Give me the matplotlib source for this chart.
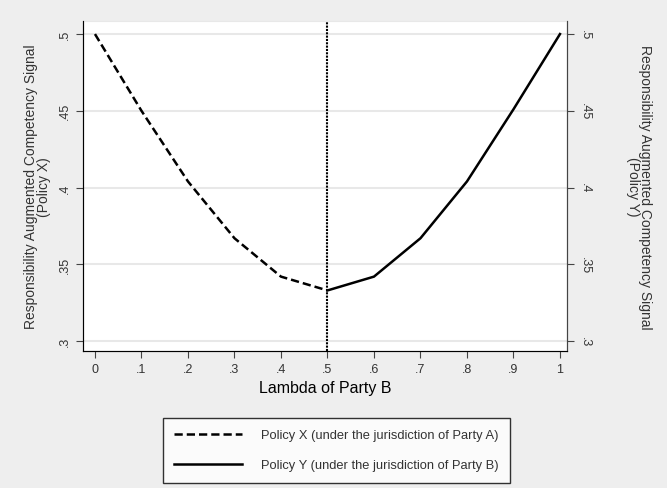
import matplotlib
matplotlib.use("Agg")
from matplotlib import pyplot as plt

plt.rcParams['font.family'] = ['Liberation Sans', 'DejaVu Sans']

lam_x = [0, .1, .2, .3, .4, .5]
sig_x = [.5, .45, .404, .367, .342, .333]
lam_y = [.5, .6, .7, .8, .9, 1]
sig_y = [.333, .342, .367, .404, .451, .5]

xticks = [0, .1, .2, .3, .4, .5, .6, .7, .8, .9, 1]
xlabels = ['0', '.1', '.2', '.3', '.4', '.5', '.6', '.7', '.8', '.9', '1']
yticks = [.3, .35, .4, .45, .5]
ylabels = ['.3', '.35', '.4', '.45', '.5']

bg = '#eeeeee'
fig = plt.figure(figsize=(6.67, 4.89), dpi=100, facecolor=bg)
ax = fig.add_axes([0.1244, 0.28, 0.7256, 0.675])
ax.set_facecolor('white')

l1, = ax.plot(lam_x, sig_x, color='black', lw=1.8, ls=(0, (3.3, 1.6)),
              label='Policy X (under the jurisdiction of Party A)')
l2, = ax.plot(lam_y, sig_y, color='black', lw=1.8,
              label='Policy Y (under the jurisdiction of Party B)')
ax.axvline(.5, color='black', lw=1.5, ls=(0, (1, 0.6)))

ax.set_xlim(-0.0258, 1.015)
ax.set_ylim(.2935, .5085)
ax.set_xticks(xticks)
ax.set_xticklabels(xlabels)
ax.set_yticks(yticks)
ax.set_yticklabels(ylabels, rotation=90, va='center')
ax.grid(axis='y', color='#e8e8e8', lw=1.5)
ax.set_axisbelow(True)
for s in ['left', 'bottom', 'right']:
    ax.spines[s].set_color('#444444')
ax.spines['top'].set_color('#e8e8e8')
ax.tick_params(colors='#444444', labelcolor='#333333', labelsize=9, length=5)
ax.set_xlabel('Lambda of Party B', fontsize=11.5, labelpad=4)
ax.set_ylabel('Responsibility Augmented Competency Signal\n(Policy X)',
              fontsize=10, color='#333333', linespacing=0.85, labelpad=6)

ax2 = ax.twinx()
ax2.set_ylim(ax.get_ylim())
ax2.set_yticks(yticks)
ax2.set_yticklabels(ylabels, rotation=-90, va='center')
ax2.tick_params(colors='#444444', labelcolor='#333333', labelsize=9, length=5)
ax2.spines['right'].set_color('#444444')
ax2.spines['top'].set_visible(False)
ax2.set_ylabel('Responsibility Augmented Competency Signal\n(Policy Y)',
               fontsize=10, color='#333333', rotation=-90, linespacing=0.85,
               labelpad=44)

leg = fig.legend(handles=[l1, l2], loc='lower center',
                 bbox_to_anchor=(0.5045, 0.01), ncol=1, fontsize=9.3,
                 frameon=True, fancybox=False, edgecolor='black',
                 facecolor='white', handlelength=5.2, labelspacing=1.4,
                 borderpad=0.9, handletextpad=1.5, borderaxespad=0)
leg.get_frame().set_linewidth(1)
for t in leg.get_texts():
    t.set_color('#333333')

fig.savefig('out.png', dpi=100, facecolor=bg)
